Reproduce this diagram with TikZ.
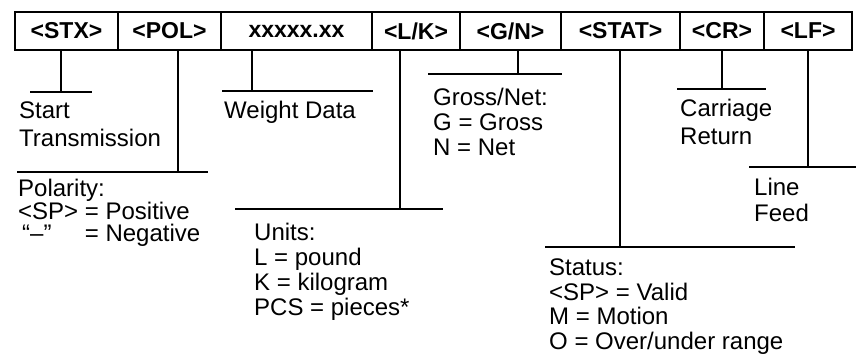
\documentclass[tikz,border=0pt]{standalone}
\usepackage{fontspec}
\setmainfont{Liberation Sans}
\usetikzlibrary{positioning}

\begin{document}
\begin{tikzpicture}[x=1pt,y=-1pt,line width=2.4pt,
  cell/.style={draw, minimum height=38pt, inner sep=0pt, outer sep=0pt, font=\bfseries\fontsize{23}{24}\selectfont},
  lbl/.style={anchor=base west, align=left, inner sep=0pt, font=\fontsize{24}{#1}\selectfont},
  lbl/.default=25]
    \useasboundingbox (0,0) rectangle (859,357);
    \node[cell, minimum width=103pt] (stx) at (66.5,31) {<STX>};
    \node[cell, minimum width=103pt, right=0pt of stx] (pol) {<POL>};
    \node[cell, minimum width=151pt, right=0pt of pol] (data) {xxxxx.xx};
    \node[cell, minimum width=88pt, right=0pt of data] (lk) {<L/K>};
    \node[cell, minimum width=101pt, right=0pt of lk] (gn) {<G/N>};
    \node[cell, minimum width=119pt, right=0pt of gn] (stat) {<STAT>};
    \node[cell, minimum width=84pt, right=0pt of stat] (cr) {<CR>};
    \node[cell, minimum width=88pt, right=0pt of cr] (lf) {<LF>};

    \coordinate (stxtap) at (61,92);
    \draw (stxtap |- stx.south) -- (stxtap);
    \draw (30,92) -- (92,92);
    \node[lbl=28] (stxtext) at (18,146.5) {Start\\Transmission};

    \coordinate (poltap) at (178,172);
    \draw (poltap |- pol.south) -- (poltap);
    \draw (17,172) -- (208,172);
    \node[lbl=22.5] (poltext) at (17,241.5) {Polarity:\\<SP> = Positive\\\rlap{\,“–”}\hphantom{<SP>} = Negative};

    \coordinate (datatap) at (252,91);
    \draw (datatap |- data.south) -- (datatap);
    \draw (222,91) -- (373,91);
    \node[lbl] (datatext) at (223,118.5) {Weight Data};

    \coordinate (lktap) at (400,209);
    \draw (lktap |- lk.south) -- (lktap);
    \draw (235,209) -- (443,209);
    \node[lbl] (lktext) at (253,315.5) {Units:\\L = pound\\K = kilogram\\PCS = pieces*};

    \coordinate (gntap) at (518,74);
    \draw (gntap |- gn.south) -- (gntap);
    \draw (428,74) -- (562,74);
    \node[lbl] (gntext) at (432,155.5) {Gross/Net:\\G = Gross\\N = Net};

    \coordinate (stattap) at (620,247);
    \draw (stattap |- stat.south) -- (stattap);
    \draw (545,247) -- (795,247);
    \node[lbl=24.5] (stattext) at (548,349) {Status:\\<SP> = Valid\\M = Motion\\O = Over/under range};

    \coordinate (crtap) at (722,89);
    \draw (crtap |- cr.south) -- (crtap);
    \draw (677,89) -- (766,89);
    \node[lbl=28] (crtext) at (679,144.5) {Carriage\\Return};

    \coordinate (lftap) at (808,167);
    \draw (lftap |- lf.south) -- (lftap);
    \draw (749,167) -- (856,167);
    \node[lbl=26] (lftext) at (753,221.5) {Line\\Feed};
\end{tikzpicture}
\end{document}
